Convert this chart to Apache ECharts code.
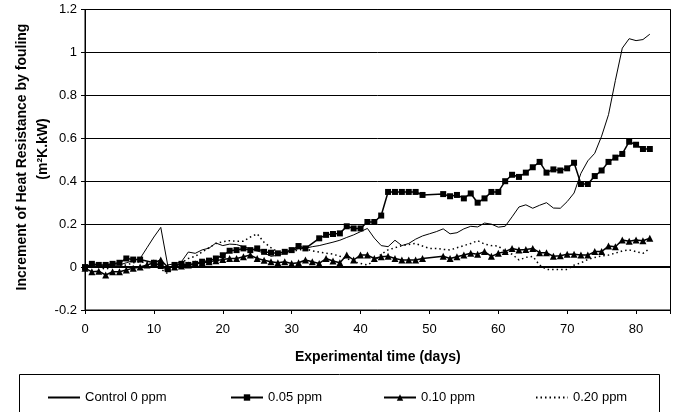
<!DOCTYPE html>
<html>
<head>
<meta charset="utf-8">
<script src="https://cdn.jsdelivr.net/npm/echarts@6/dist/echarts.min.js"></script>
<style>
  html, body { margin: 0; padding: 0; background: #fff; }
  #chart { width: 675px; height: 412px; }
</style>
</head>
<body>
<div id="chart"></div>
<script>
// experiment days 0..82, null = no reading that day
const days = [];
for (let d = 0; d <= 82; d++) days.push(d);

const control = [0, 0.005, 0.005, 0.005, 0.01, 0.01, 0.02, 0.03, 0.04, 0.09,
  0.14, 0.185, 0.01, 0.015, 0.025, 0.07, 0.064, 0.08, 0.088, 0.112,
  0.1, 0.107, 0.105, 0.095, 0.085, 0.075, 0.066, 0.05, 0.055, 0.065,
  0.078, 0.085, 0.088, 0.095, 0.1, 0.108, 0.116, 0.125, 0.138, 0.15,
  0.165, 0.18, 0.135, 0.1, 0.095, 0.125, 0.1, 0.11, 0.13, 0.145,
  0.155, 0.165, 0.178, 0.155, 0.16, 0.178, 0.19, 0.187, 0.205, 0.2,
  0.186, 0.19, 0.234, 0.28, 0.29, 0.274, 0.288, 0.3, 0.275, 0.274,
  0.305, 0.345, 0.437, 0.495, 0.53, 0.61, 0.71, 0.87, 1.02, 1.064,
  1.055, 1.06, 1.085];

const ppm005 = [0, 0.015, 0.01, 0.01, 0.015, 0.02, 0.04, 0.035, 0.035, null,
  0.02, 0.005, -0.01, 0.01, 0.015, 0.01, 0.015, 0.025, 0.03, 0.04,
  0.055, 0.076, 0.079, 0.087, 0.079, 0.087, 0.071, 0.067, 0.064, 0.071,
  0.079, 0.098, 0.087, null, 0.134, 0.15, 0.154, 0.157, 0.19, 0.18,
  0.18, 0.21, 0.21, 0.24, 0.35, 0.35, 0.35, 0.35, 0.35, 0.336,
  null, null, 0.34, 0.33, 0.336, 0.32, 0.343, 0.3, 0.32, 0.35,
  0.35, 0.4, 0.43, 0.42, 0.44, 0.465, 0.49, 0.44, 0.455, 0.45,
  0.46, 0.486, 0.387, 0.387, 0.424, 0.45, 0.49, 0.51, 0.527, 0.584,
  0.57, 0.55, 0.55];

const ppm010 = [-0.005, -0.022, -0.019, -0.037, -0.022, -0.022, -0.014, -0.005, 0, 0.01,
  0.02, 0.033, 0, 0, 0.005, 0.01, 0.015, 0.02, 0.025, 0.03,
  0.035, 0.04, 0.04, 0.048, 0.056, 0.04, 0.032, 0.025, 0.02, 0.025,
  0.017, 0.02, 0.033, 0.025, 0.017, 0.04, 0.028, 0.02, 0.056, 0.033,
  0.056, 0.056, 0.04, 0.048, 0.05, 0.04, 0.033, 0.033, 0.033, 0.04,
  null, null, 0.05, 0.04, 0.048, 0.056, 0.064, 0.06, 0.072, 0.05,
  0.064, 0.072, 0.087, 0.08, 0.082, 0.087, 0.067, 0.067, 0.05, 0.053,
  0.06, 0.06, 0.056, 0.056, 0.072, 0.072, 0.098, 0.095, 0.126, 0.12,
  0.126, 0.123, 0.134];

const ppm020 = [0, 0.005, 0, -0.01, 0, 0.005, 0.01, 0.02, 0.025, 0.02,
  0.015, -0.01, -0.03, 0, 0.02, 0.04, 0.05, 0.07, 0.09, 0.11,
  0.118, 0.123, 0.12, 0.12, 0.14, 0.155, 0.115, 0.09, 0.07, 0.065,
  0.07, 0.08, 0.085, 0.075, 0.07, 0.065, 0.06, 0.05, 0.04, 0.025,
  0.017, 0.01, 0.03, 0.06, 0.08, 0.09, 0.1, 0.105, 0.11, 0.098,
  0.087, 0.087, 0.082, 0.08, 0.09, 0.1, 0.11, 0.123, 0.107, 0.1,
  0.098, 0.072, 0.06, 0.033, 0.045, 0.05, 0.009, -0.011, -0.011, -0.011,
  -0.011, 0.009, 0.02, 0.035, 0.045, 0.052, 0.056, 0.065, 0.075, 0.08,
  0.072, 0.064, 0.087];

const seriesNames = ['Control 0 ppm', '0.05 ppm', '0.10 ppm', '0.20 ppm'];
const yTitle = 'Increment of Heat Resistance by fouling';
const yUnit = '(m\u00b2K.kW)';
const xTitle = 'Experimental time (days)';

const FONT = '"Liberation Sans", Arial, sans-serif';

function pairs(vals) {
  return days.map((d, i) => [d, vals[i]]);
}

// one legend per entry so each sits where it does in the figure
function legendAt(name, left, noMarker) {
  const item = { name: name };
  if (noMarker) item.itemStyle = { opacity: 0 };
  return {
    data: [item],
    left: left,
    top: 386,
    itemWidth: 32,
    itemHeight: 8,
    selectedMode: false,
    textStyle: { fontFamily: FONT, fontSize: 13, color: '#000' }
  };
}

const chart = echarts.init(document.getElementById('chart'), null, { renderer: 'canvas' });

chart.setOption({
  animation: false,
  backgroundColor: '#fff',
  textStyle: { fontFamily: FONT },
  grid: {
    left: 85, right: 4.5, top: 9.5, bottom: 102,
    show: true, borderColor: '#000', borderWidth: 1, backgroundColor: '#fff'
  },
  legend: [
    legendAt(seriesNames[0], 42, true),
    legendAt(seriesNames[1], 225),
    legendAt(seriesNames[2], 378),
    legendAt(seriesNames[3], 530, true)
  ],
  graphic: [
    {
      type: 'rect', silent: true,
      shape: { x: 19.5, y: 374.5, width: 640, height: 60 },
      style: { fill: null, stroke: '#000', lineWidth: 1 }
    },
    {
      type: 'text', x: 22, y: 157, rotation: Math.PI / 2,
      style: { text: yTitle, font: 'bold 14px ' + FONT, fill: '#000', align: 'center', verticalAlign: 'middle' }
    },
    {
      type: 'text', x: 43, y: 149, rotation: Math.PI / 2,
      style: { text: yUnit, font: 'bold 14px ' + FONT, fill: '#000', align: 'center', verticalAlign: 'middle' }
    }
  ],
  xAxis: {
    type: 'value',
    min: 0, max: 85, interval: 10,
    name: xTitle,
    nameLocation: 'middle',
    nameGap: 40,
    nameTextStyle: { fontFamily: FONT, fontSize: 14, fontWeight: 'bold', color: '#000' },
    axisLine: { onZero: false, lineStyle: { color: '#000', width: 1 } },
    axisTick: { show: true, length: 4, lineStyle: { color: '#000' } },
    axisLabel: {
      margin: 13, fontFamily: FONT, fontSize: 13, color: '#000',
      formatter: v => (v % 10 === 0 ? String(v) : '')
    },
    splitLine: { show: false }
  },
  yAxis: {
    type: 'value',
    min: -0.2, max: 1.2, interval: 0.2,
    axisLine: { show: true, lineStyle: { color: '#000', width: 1 } },
    axisTick: { show: true, length: 4, lineStyle: { color: '#000' } },
    axisLabel: {
      margin: 8, fontFamily: FONT, fontSize: 13, color: '#000',
      formatter: v => String(Math.round(v * 10) / 10)
    },
    splitLine: { show: true, lineStyle: { color: '#000', width: 1 } }
  },
  series: [
    {
      name: seriesNames[0], type: 'line', data: pairs(control),
      symbol: 'none', connectNulls: true,
      lineStyle: { color: '#000', width: 1 }, itemStyle: { color: '#000' },
      markLine: {
        silent: true, symbol: 'none', label: { show: false },
        lineStyle: { color: '#000', width: 2, type: 'solid' },
        data: [{ yAxis: 0 }]
      },
      z: 4
    },
    {
      name: seriesNames[1], type: 'line', data: pairs(ppm005),
      symbol: 'rect', symbolSize: 6, connectNulls: true,
      lineStyle: { color: '#000', width: 1.5 }, itemStyle: { color: '#000' },
      z: 3
    },
    {
      name: seriesNames[2], type: 'line', data: pairs(ppm010),
      symbol: 'triangle', symbolSize: 7, connectNulls: true,
      lineStyle: { color: '#000', width: 1.5 }, itemStyle: { color: '#000' },
      z: 3
    },
    {
      name: seriesNames[3], type: 'line', data: pairs(ppm020),
      symbol: 'none', connectNulls: true,
      lineStyle: { color: '#000', width: 1.5, type: [1.5, 3] }, itemStyle: { color: '#000' },
      z: 2
    }
  ]
});
</script>
</body>
</html>
